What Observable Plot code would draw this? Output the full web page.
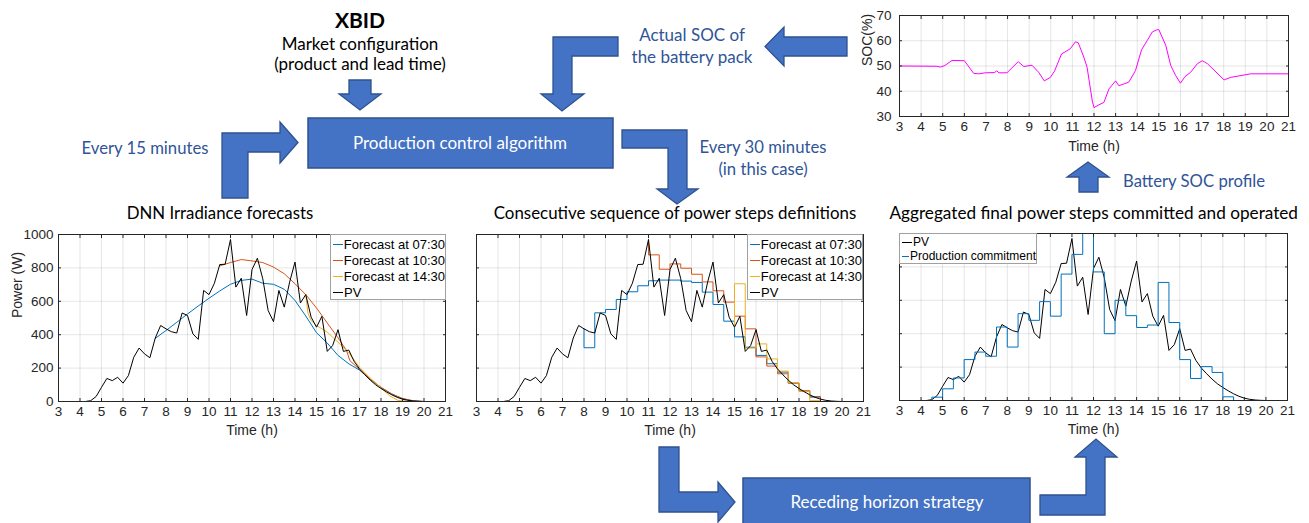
<!DOCTYPE html>
<html>
<head>
<meta charset="utf-8">
<script src="https://cdn.jsdelivr.net/npm/d3@7"></script>
<script src="https://cdn.jsdelivr.net/npm/@observablehq/plot@0.6"></script>
<style>
html, body { margin: 0; padding: 0; background: #fff; }
#root { position: relative; width: 1309px; height: 523px; overflow: hidden; }
.chart { position: absolute; }
.legend { position: absolute; background: #fff; border: 1px solid #a0a0a0; box-sizing: border-box;
  font-family: "Liberation Sans", Arial, sans-serif; color: #000; }
.legend .row { display: flex; align-items: center; white-space: nowrap; }
.legend .sw { display: inline-block; width: 10px; height: 0; border-top: 1.2px solid; margin: 0 1px 0 2px; }
#overlay { position: absolute; left: 0; top: 0; }
</style>
</head>
<body>
<div id="root"></div>
<script>
// ---------------- data ----------------
const hourTicks = [3, 4, 5, 6, 7, 8, 9, 10, 11, 12, 13, 14, 15, 16, 17, 18, 19, 20, 21];
const powerTicks = [0, 200, 400, 600, 800, 1000];
const socTicks = [30, 40, 50, 60, 70];

// measured PV power, every 15 minutes from 03:00 to 21:00
const pvTimes = d3.range(73).map(i => 3 + i * 0.25);
const pvValues = [0, 0, 0, 0, 0, 0, 5, 30, 85, 138, 125, 145, 110, 155, 265, 320, 285, 262, 380, 455,
  435, 418, 410, 530, 515, 405, 372, 665, 640, 708, 820, 822, 970, 685, 738, 515, 790, 858, 735, 545,
  478, 665, 565, 715, 835, 590, 640, 505, 445, 510, 300, 335, 430, 300, 308, 240, 195, 160, 128, 100,
  78, 58, 40, 25, 14, 7, 3, 1, 0, 0, 0, 0, 0];

// DNN irradiance forecasts (W)
const fc0730Time = [7.5, 8, 8.5, 9, 9.5, 10, 10.5, 11, 11.5, 12, 12.5, 13, 13.5, 14, 14.5, 15, 15.5, 16, 16.5, 17, 17.5, 18, 18.5, 19, 19.5, 20];
const fc0730Value = [378, 425, 474, 524, 572, 618, 662, 702, 725, 733, 708, 702, 672, 605, 512, 412, 350, 276, 226, 188, 132, 84, 45, 17, 4, 0];
const fc1030Time = [10.5, 11, 11.5, 12, 12.5, 13, 13.5, 14, 14.5, 15, 15.5, 16, 16.4, 16.55, 17, 17.5, 18, 18.5, 19, 19.5, 20];
const fc1030Value = [812, 832, 850, 842, 832, 805, 765, 705, 640, 560, 470, 382, 305, 245, 192, 135, 85, 45, 18, 4, 0];
const fc1430Time = [14.5, 14.6, 14.75, 15, 15.5, 16, 16.5, 17, 17.5, 18, 18.4, 18.8, 19.3];
const fc1430Value = [640, 530, 485, 455, 415, 355, 292, 205, 140, 82, 34, 6, 0];

// power step definitions (30-minute steps)
const step0730Time = [8, 8, 8.5, 9, 9.5, 10, 10.5, 11, 11.5, 12, 12.5, 13, 13.5, 14, 14.5, 15, 15.5, 16, 16.5, 17, 17.5, 18, 18.5, 19, 21];
const step0730Value = [435, 322, 531, 551, 611, 657, 693, 723, 727, 727, 721, 713, 655, 581, 481, 387, 325, 276, 226, 176, 110, 62, 26, 0, 0];
const step1030Time = [11, 11, 11.5, 12, 12.5, 13, 13.5, 14, 14.5, 15, 15.5, 16, 16.5, 17, 17.5, 18, 18.5, 19, 21];
const step1030Value = [970, 878, 792, 824, 798, 762, 716, 663, 595, 511, 435, 267, 212, 166, 110, 66, 30, 0, 0];
const step1430Time = [15, 15, 15.5, 16, 16.5, 17, 17.5, 18, 18.5, 19, 21];
const step1430Value = [445, 705, 320, 345, 255, 182, 112, 62, 5, 0, 0];

// aggregated production commitment (30-minute steps)
const commitTime = [3, 4.5, 5, 5.5, 6, 6.5, 7, 7.5, 8, 8.5, 9, 9.5, 10, 10.5, 11, 11.5, 12, 12.5, 13, 13.5, 14, 14.5, 15, 15.5, 16, 16.5, 17, 17.5, 18, 18.5, 21];
const commitValue = [0, 20, 70, 135, 245, 290, 265, 440, 320, 520, 480, 592, 505, 757, 875, 1060, 770, 400, 600, 508, 437, 452, 707, 467, 245, 132, 203, 168, 22, 0, 0];

// battery state of charge (%)
const socTime = [3, 4.7, 4.9, 5.1, 5.43, 6.0, 6.43, 6.66, 6.97, 7.4, 7.5, 7.6, 7.97, 8.49, 8.75, 9.13, 9.44, 9.7, 9.98, 10.17,
  10.5, 10.9, 11.14, 11.27, 11.53, 11.68, 11.92, 12.0, 12.22, 12.46, 12.69, 13.0, 13.15, 13.38, 13.61, 13.92, 14.2, 14.47, 14.7, 14.93,
  15.0, 15.32, 15.55, 15.78, 16.0, 16.21, 16.47, 16.78, 17.01, 17.25, 18.02, 18.33, 19.25, 21];
const socValue = [50, 49.9, 49.6, 50.2, 52.2, 52.1, 47.1, 46.9, 47.3, 47.4, 48.1, 47.3, 47.3, 51.7, 49.8, 50.3, 47.5, 44.1, 45.5, 47.9,
  54.8, 56.8, 59.6, 59.2, 53.5, 49.5, 36.2, 33.5, 34.6, 35.6, 40.9, 44.1, 42.2, 42.9, 43.6, 48.2, 56.4, 60.2, 63.5, 64.4,
  64.4, 58.2, 50.2, 46.2, 43.2, 45.8, 47.5, 50.9, 52.1, 50.9, 44.5, 45.5, 46.9, 46.9];

const legend1Labels = ["Forecast at 07:30", "Forecast at 10:30", "Forecast at 14:30", "PV"];
const legend3Labels = ["PV", "Production commitment"];
const timeLabel = "Time (h)";
const powerLabel = "Power (W)";
const socLabel = "SOC(%)";

// ---------------- styles ----------------
const cBlue = "#0072BD", cOrange = "#D95319", cYellow = "#EDB120", cBlack = "#000000", cMagenta = "#FF00FF";
const legend1Colors = [cBlue, cOrange, cYellow, cBlack];
const legend3Colors = [cBlack, cBlue];
const tickFont = "'Liberation Sans', Arial, Helvetica, sans-serif";
const axisColor = "#262626";
const gridStyle = {stroke: "#000", strokeOpacity: 0.1, strokeWidth: 1};
const plainNumber = d => String(d);
const tickFontSize = 13.5;
const labelFontSize = 14;

const root = document.getElementById("root");

function place(el, left, top) {
  const wrap = document.createElement("div");
  wrap.className = "chart";
  wrap.style.left = left + "px";
  wrap.style.top = top + "px";
  wrap.appendChild(el);
  root.appendChild(wrap);
}

function frameTicks(ticksX, ticksY) {
  return [
    Plot.axisX({ticks: ticksX, anchor: "bottom", tickSize: -3, fill: "none", stroke: axisColor, label: null}),
    Plot.axisX({ticks: ticksX, anchor: "top", tickSize: -3, fill: "none", stroke: axisColor, label: null}),
    Plot.axisY({ticks: ticksY, anchor: "left", tickSize: -3, fill: "none", stroke: axisColor, label: null}),
    Plot.axisY({ticks: ticksY, anchor: "right", tickSize: -3, fill: "none", stroke: axisColor, label: null})
  ];
}

function xTitle(dy) {
  return Plot.text([timeLabel], {text: d => d, frameAnchor: "bottom", dy, fontSize: labelFontSize, fill: axisColor, lineAnchor: "middle"});
}
function yTitle(label, dx) {
  return Plot.text([label], {text: d => d, frameAnchor: "left", dx, rotate: -90, fontSize: labelFontSize, fill: axisColor, lineAnchor: "middle"});
}

function powerChart({width, marginLeft, marginRight, marginTop, marginBottom, showY, lines}) {
  return Plot.plot({
    width, height: 223, marginLeft, marginRight, marginTop, marginBottom,
    style: {background: "transparent", fontFamily: tickFont, fontSize: tickFontSize + "px", color: axisColor, overflow: "visible"},
    x: {domain: [3, 21]},
    y: {domain: [0, 1000]},
    marks: [
      Plot.gridX(hourTicks, gridStyle),
      Plot.gridY(powerTicks, gridStyle),
      ...lines,
      Plot.frame({stroke: axisColor, strokeWidth: 1}),
      ...frameTicks(hourTicks, powerTicks),
      Plot.axisX({ticks: hourTicks, tickFormat: plainNumber, tickSize: 0, tickPadding: 5, label: null, fontSize: tickFontSize}),
      xTitle(29),
      showY ? Plot.axisY({ticks: powerTicks, tickFormat: plainNumber, tickSize: 0, tickPadding: 5, label: null, fontSize: tickFontSize}) : null,
      showY ? yTitle(powerLabel, -41) : null
    ]
  });
}

// chart 1: DNN irradiance forecasts
place(powerChart({
  width: 460, marginLeft: 58, marginRight: 15, marginTop: 12, marginBottom: 44, showY: true,
  lines: [
    Plot.line(fc0730Time, {x: fc0730Time, y: fc0730Value, stroke: cBlue, strokeWidth: 1}),
    Plot.line(fc1030Time, {x: fc1030Time, y: fc1030Value, stroke: cOrange, strokeWidth: 1}),
    Plot.line(fc1430Time, {x: fc1430Time, y: fc1430Value, stroke: cYellow, strokeWidth: 1}),
    Plot.line(pvTimes, {x: pvTimes, y: pvValues, stroke: cBlack, strokeWidth: 1})
  ]
}), 0, 222);

// chart 2: consecutive sequence of power steps
place(powerChart({
  width: 420, marginLeft: 16, marginRight: 17, marginTop: 12, marginBottom: 44, showY: false,
  lines: [
    Plot.line(step0730Time, {x: step0730Time, y: step0730Value, curve: "step-after", stroke: cBlue, strokeWidth: 1}),
    Plot.line(step1030Time, {x: step1030Time, y: step1030Value, curve: "step-after", stroke: cOrange, strokeWidth: 1}),
    Plot.line(step1430Time, {x: step1430Time, y: step1430Value, curve: "step-after", stroke: cYellow, strokeWidth: 1}),
    Plot.line(pvTimes, {x: pvTimes, y: pvValues, stroke: cBlack, strokeWidth: 1})
  ]
}), 460, 222);

// chart 3: aggregated final power steps
place(powerChart({
  width: 429, marginLeft: 19, marginRight: 22, marginTop: 11, marginBottom: 45, showY: false,
  lines: [
    Plot.line(pvTimes, {x: pvTimes, y: pvValues, stroke: cBlack, strokeWidth: 1}),
    Plot.line(commitTime, {x: commitTime, y: commitValue, curve: "step-after", stroke: cBlue, strokeWidth: 1, clip: true})
  ]
}), 880, 222);

// SOC chart
place(Plot.plot({
  width: 459, height: 160, marginLeft: 49, marginRight: 21, marginTop: 15, marginBottom: 44,
  style: {background: "transparent", fontFamily: tickFont, fontSize: tickFontSize + "px", color: axisColor, overflow: "visible"},
  x: {domain: [3, 21]},
  y: {domain: [30, 70]},
  marks: [
    Plot.gridX(hourTicks, gridStyle),
    Plot.gridY(socTicks, gridStyle),
    Plot.line(socTime, {x: socTime, y: socValue, stroke: cMagenta, strokeWidth: 1}),
    Plot.frame({stroke: axisColor, strokeWidth: 1}),
    ...frameTicks(hourTicks, socTicks),
    Plot.axisX({ticks: hourTicks, tickFormat: plainNumber, tickSize: 0, tickPadding: 5, label: null, fontSize: tickFontSize}),
    xTitle(30),
    Plot.axisY({ticks: socTicks, tickFormat: plainNumber, tickSize: 0, tickPadding: 8, label: null, fontSize: tickFontSize}),
    yTitle(socLabel, -32)
  ]
}), 850, 0);

// legends
function legend(labels, colors, {left, top, width, height, fontSize, rowHeight, padTop}) {
  const box = document.createElement("div");
  box.className = "legend";
  Object.assign(box.style, {left: left + "px", top: top + "px", width: width + "px", height: height + "px",
    fontSize: fontSize + "px", paddingTop: padTop + "px"});
  labels.forEach((lab, i) => {
    const row = document.createElement("div");
    row.className = "row";
    row.style.height = rowHeight + "px";
    const sw = document.createElement("span");
    sw.className = "sw";
    sw.style.borderTopColor = colors[i];
    const t = document.createElement("span");
    t.textContent = lab;
    row.appendChild(sw);
    row.appendChild(t);
    box.appendChild(row);
  });
  root.appendChild(box);
}
legend(legend1Labels, legend1Colors, {left: 330, top: 234, width: 116, height: 66, fontSize: 13, rowHeight: 16, padTop: 1});
legend(legend1Labels, legend1Colors, {left: 747, top: 234, width: 116, height: 66, fontSize: 13, rowHeight: 16, padTop: 1});
legend(legend3Labels, legend3Colors, {left: 899, top: 233, width: 138, height: 31, fontSize: 12, rowHeight: 14, padTop: 1});

// ---------------- flow diagram overlay ----------------
const NS = "http://www.w3.org/2000/svg";
const svg = document.createElementNS(NS, "svg");
svg.setAttribute("id", "overlay");
svg.setAttribute("width", 1309);
svg.setAttribute("height", 523);
root.insertBefore(svg, root.firstChild);

const fill = "#4472C4", edge = "#2F528F", labelBlue = "#2F5597";
const arrowShapes = [
  "349,80 371,80 371,94 381,94 360,110 339,94 349,94",
  "553,37 618,37 618,56 572,56 572,94 584,94 562,111 541,94 553,94",
  "847,37 847,56 784,56 784,66 765,46.5 784,27 784,37",
  "222,198 222,133 280,133 280,122 298,142.5 280,163 280,152 248,152 248,198",
  "622,130 687,130 687,189 698,189 677,204 657,189 668,189 668,148 622,148",
  "1079,192 1079,177 1067,177 1088,162 1109,177 1098,177 1098,192",
  "659,447 679,447 679,492 718,492 718,482 735,502 718,522 718,512 659,512",
  "1040,495 1086,495 1086,457 1075,457 1096,439 1117,457 1105,457 1105,515 1040,515"
];
arrowShapes.forEach(p => {
  const poly = document.createElementNS(NS, "polygon");
  poly.setAttribute("points", p);
  poly.setAttribute("fill", fill);
  poly.setAttribute("stroke", edge);
  poly.setAttribute("stroke-width", 1.3);
  poly.setAttribute("stroke-linejoin", "miter");
  svg.appendChild(poly);
});
[[308, 118, 305, 50], [743, 478, 287, 60]].forEach(([x, y, w, h]) => {
  const r = document.createElementNS(NS, "rect");
  r.setAttribute("x", x); r.setAttribute("y", y); r.setAttribute("width", w); r.setAttribute("height", h);
  r.setAttribute("fill", fill); r.setAttribute("stroke", edge); r.setAttribute("stroke-width", 1.5);
  svg.appendChild(r);
});

const texts = [
  ["XBID", 360, 28, "middle", "#000", 21, "bold"],
  ["Market configuration", 360, 50, "middle", "#000", 17, "normal"],
  ["(product and lead time)", 360, 70, "middle", "#000", 17, "normal"],
  ["Actual SOC of", 692, 41, "middle", labelBlue, 17, "normal"],
  ["the battery pack", 692, 63, "middle", labelBlue, 17, "normal"],
  ["Production control algorithm", 460, 149, "middle", "#fff", 17, "normal"],
  ["Every 15 minutes", 145, 154, "middle", labelBlue, 16.7, "normal"],
  ["Every 30 minutes", 763, 153, "middle", labelBlue, 16.7, "normal"],
  ["(in this case)", 763, 175, "middle", labelBlue, 16.7, "normal"],
  ["Battery SOC profile", 1123, 187, "start", labelBlue, 16.7, "normal"],
  ["DNN Irradiance forecasts", 220, 219, "middle", "#000", 16.8, "normal"],
  ["Consecutive sequence of power steps definitions", 675, 219, "middle", "#000", 16.9, "normal"],
  ["Aggregated final power steps committed and operated", 1298, 219, "end", "#000", 17.2, "normal"],
  ["Receding horizon strategy", 887, 508, "middle", "#fff", 17, "normal"]
];
texts.forEach(([s, x, y, anchor, color, size, weight]) => {
  const t = document.createElementNS(NS, "text");
  t.setAttribute("x", x); t.setAttribute("y", y);
  t.setAttribute("text-anchor", anchor);
  t.setAttribute("fill", color);
  t.setAttribute("font-family", "Lato, 'Open Sans', sans-serif");
  t.setAttribute("font-size", size);
  t.setAttribute("font-weight", weight);
  t.textContent = s;
  svg.appendChild(t);
});
</script>
</body>
</html>
